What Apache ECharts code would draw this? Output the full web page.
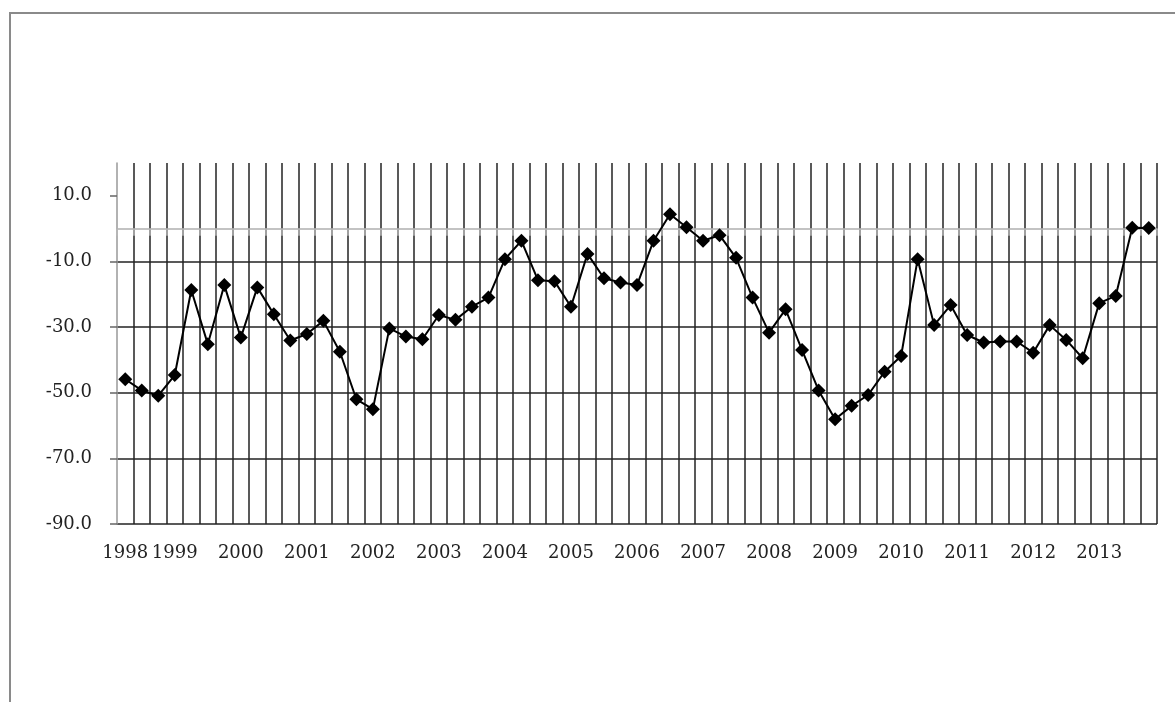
<!DOCTYPE html>
<html>
<head>
<meta charset="utf-8">
<title>Quarterly index 1998–2013</title>
<script src="https://cdn.jsdelivr.net/npm/echarts@6/dist/echarts.min.js"></script>
<style>
  html, body { margin: 0; padding: 0; background: #ffffff; }
  #chart { width: 1175px; height: 702px; }
</style>
</head>
<body>
<div id="chart"></div>
<script>
// Quarterly categories, 1998 Q2 to 2013 Q4; the year is shown on its first quarter
const categories = [
  '1998', '', '',
  '1999', '', '', '',
  '2000', '', '', '',
  '2001', '', '', '',
  '2002', '', '', '',
  '2003', '', '', '',
  '2004', '', '', '',
  '2005', '', '', '',
  '2006', '', '', '',
  '2007', '', '', '',
  '2008', '', '', '',
  '2009', '', '', '',
  '2010', '', '', '',
  '2011', '', '', '',
  '2012', '', '', '',
  '2013', '', '', ''
];

// Index values per quarter
const values = [
  -45.9, -49.3, -50.9,
  -44.6, -18.7, -35.2, -17.2,
  -33.2, -17.9, -26.1, -34.1,
  -32.1, -28.1, -37.5, -52.0,
  -55.0, -30.4, -32.9, -33.7,
  -26.3, -27.8, -23.8, -21.0,
  -9.3, -3.7, -15.7, -16.0,
  -23.8, -7.7, -15.1, -16.4,
  -17.2, -3.7, 4.4, 0.4,
  -3.7, -2.0, -8.9, -21.0,
  -31.7, -24.6, -37.0, -49.3,
  -58.1, -54.0, -50.7, -43.6,
  -38.8, -9.3, -29.4, -23.3,
  -32.4, -34.7, -34.4, -34.4,
  -37.8, -29.4, -33.9, -39.5,
  -22.7, -20.5, 0.3, 0.2
];

// Value axis ticks
const yTicks = [-90, -70, -50, -30, -10, 10];
const yMin = -90;
const yMax = 20;

const chart = echarts.init(document.getElementById('chart'), null, { renderer: 'canvas' });

const serifFont = 'DejaVu Serif';

chart.setOption({
  backgroundColor: '#ffffff',
  animation: false,
  graphic: [{
    type: 'rect',
    shape: { x: 10, y: 13, width: 1300, height: 800 },
    style: { fill: 'none', stroke: '#8a8a8a', lineWidth: 2 },
    silent: true,
    z: -10
  }],
  grid: { left: 117, right: 18, top: 163, bottom: 178, containLabel: false },
  xAxis: [{
    type: 'category',
    data: categories,
    boundaryGap: true,
    position: 'bottom',
    axisLine: { show: false, onZero: false },
    axisTick: { show: false },
    axisLabel: {
      interval: 0,
      margin: 20,
      color: '#222222',
      fontFamily: serifFont,
      fontSize: 18,
      hideOverlap: false
    },
    splitLine: {
      show: true,
      showMinLine: false,
      interval: 0,
      lineStyle: { color: '#222222', width: 1.5 }
    }
  }, {
    // zero line with its downward category ticks
    type: 'category',
    data: categories,
    boundaryGap: true,
    position: 'top',
    axisLine: { show: true, onZero: true, lineStyle: { color: '#b0b0b0', width: 1.5 } },
    axisTick: { show: true, inside: true, interval: 0, length: 7, lineStyle: { color: '#b8b8b8', width: 1.5 } },
    axisLabel: { show: false },
    splitLine: { show: false }
  }],
  yAxis: {
    type: 'value',
    min: yMin,
    max: yMax,
    interval: 20,
    axisLine: { show: true, lineStyle: { color: '#999999', width: 1.5 } },
    axisTick: {
      show: true,
      length: 7,
      customValues: yTicks,
      lineStyle: { color: '#666666', width: 1.5 }
    },
    axisLabel: {
      customValues: yTicks,
      margin: 25,
      color: '#222222',
      fontFamily: serifFont,
      fontSize: 18,
      formatter: v => v.toFixed(1)
    },
    splitLine: {
      show: true,
      showMaxLine: false,
      lineStyle: { color: '#222222', width: 1.5 }
    }
  },
  series: [{
    type: 'line',
    data: values,
    xAxisIndex: 0,
    symbol: 'diamond',
    symbolSize: 14,
    lineStyle: { color: '#000000', width: 2 },
    itemStyle: { color: '#000000' },
    z: 5
  }]
});
</script>
</body>
</html>
